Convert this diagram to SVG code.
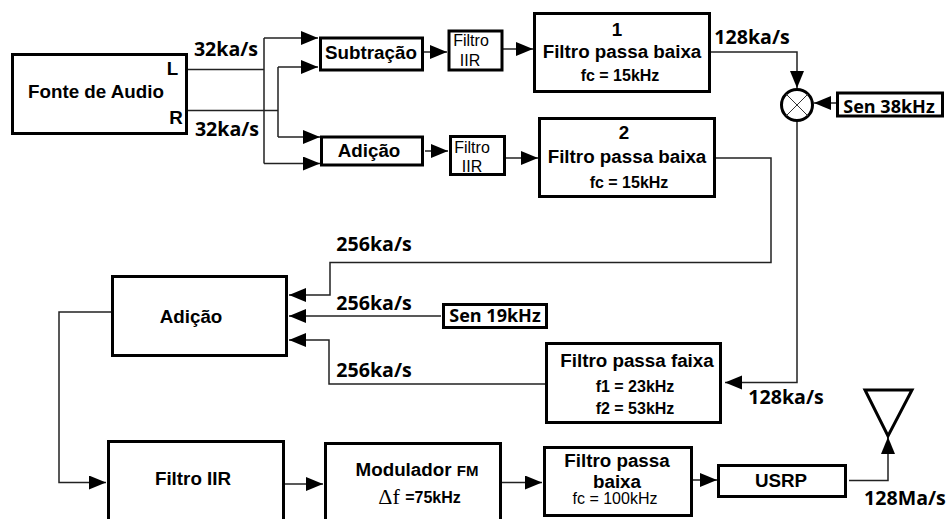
<svg xmlns="http://www.w3.org/2000/svg" width="947" height="519" viewBox="0 0 947 519">
<style>
.b{fill:#fff;stroke:#000;stroke-width:3}
.c{fill:none;stroke:#222;stroke-width:1.5}
text{font-family:"Liberation Sans",Arial,sans-serif;font-weight:bold;fill:#000;text-anchor:middle}
.r{font-family:"Open Sans",sans-serif;font-size:19.600px}
.m{font-size:18.800px}
.s{font-size:16px}
.t{font-size:16px;font-weight:normal}
</style>
<defs><marker id="a" markerUnits="userSpaceOnUse" markerWidth="18" markerHeight="16" refX="17" refY="7" orient="auto"><path d="M0 0L17 7L0 14Z" fill="#000"/></marker></defs>
<g id="connectors">
<path class="c" d="M188 69.500H264M264 38V163.500M188 110.500H278M278 67V137"/>
<path class="c" d="M264 38H318" marker-end="url(#a)"/>
<path class="c" d="M278 67H318" marker-end="url(#a)"/>
<path class="c" d="M278 137H320" marker-end="url(#a)"/>
<path class="c" d="M264 163.500H320" marker-end="url(#a)"/>
<path class="c" d="M423 52H447" marker-end="url(#a)"/>
<path class="c" d="M425 151H448" marker-end="url(#a)"/>
<path class="c" d="M503 49H533" marker-end="url(#a)"/>
<path class="c" d="M505 158H538" marker-end="url(#a)"/>
<path class="c" d="M710 52H797V88" marker-end="url(#a)"/>
<path class="c" d="M836 103H814" marker-end="url(#a)"/>
<path class="c" d="M797 121V382.500H725" marker-end="url(#a)"/>
<path class="c" d="M715 158H771V262.500H330V295H289" marker-end="url(#a)"/>
<path class="c" d="M441 316H289" marker-end="url(#a)"/>
<path class="c" d="M546 384H329V340H289" marker-end="url(#a)"/>
<path class="c" d="M111 312H59V482.500H106" marker-end="url(#a)"/>
<path class="c" d="M283 484H323" marker-end="url(#a)"/>
<path class="c" d="M501 482.500H542" marker-end="url(#a)"/>
<path class="c" d="M692 480H717" marker-end="url(#a)"/>
<path class="c" d="M849 480.500H888V437" marker-end="url(#a)"/>
</g>
<g id="fonte"><rect class="b" x="12.500" y="54.500" width="174" height="79"/><text class="m" x="96" y="98">Fonte de Audio</text><text class="m" x="172.500" y="75">L</text><text class="m" x="176" y="124">R</text></g>
<g id="subtracao"><rect class="b" x="320.500" y="38" width="102" height="32"/><text class="m" x="371" y="59">Subtração</text></g>
<g id="adicao1"><rect class="b" x="321.500" y="137" width="101" height="28"/><text class="m" x="369" y="157">Adição</text></g>
<g id="iir1"><rect class="b" x="449" y="31" width="53" height="39"/><text class="t" x="471" y="46">Filtro</text><text class="t" x="470" y="66">IIR</text></g>
<g id="iir2"><rect class="b" x="450.500" y="136.500" width="54" height="38"/><text class="t" x="472" y="153">Filtro</text><text class="t" x="472" y="172">IIR</text></g>
<g id="lp1"><rect class="b" x="534.500" y="13.500" width="175" height="78"/><text class="m" x="617" y="36">1</text><text class="m" x="622" y="58">Filtro passa baixa</text><text class="s" x="620" y="81">fc = 15kHz</text></g>
<g id="lp2"><rect class="b" x="539.500" y="118.500" width="175" height="78"/><text class="m" x="624" y="139">2</text><text class="m" x="627" y="163">Filtro passa baixa</text><text class="s" x="629" y="188">fc = 15kHz</text></g>
<g id="mixer"><circle cx="797" cy="105" r="15.500" fill="#fff" stroke="#000" stroke-width="3"/><path d="M786 94L808 116M808 94L786 116" stroke="#333" stroke-width="1"/></g>
<g id="sen38"><rect class="b" x="837.500" y="93" width="105" height="23"/><text x="889" y="113" style="font-family:'Open Sans',sans-serif;font-size:18px">Sen 38kHz</text></g>
<g id="adicao2"><rect class="b" x="112.500" y="276.500" width="174" height="79"/><text class="m" x="191" y="323">Adição</text></g>
<g id="sen19"><rect class="b" x="443.500" y="304.500" width="103" height="23"/><text x="495" y="322" style="font-family:'Open Sans',sans-serif;font-size:18px">Sen 19kHz</text></g>
<g id="bp"><rect class="b" x="546.500" y="343.500" width="174" height="79"/><text class="m" x="637" y="367">Filtro passa faixa</text><text class="s" x="635" y="392">f1 = 23kHz</text><text class="s" x="635" y="414">f2 = 53kHz</text></g>
<g id="iir3"><rect class="b" x="108.500" y="441.500" width="175" height="79"/><text class="m" x="193" y="485">Filtro IIR</text></g>
<g id="mod"><rect class="b" x="325.500" y="443.500" width="175" height="79"/><text class="m" x="417" y="476">Modulador <tspan style="font-size:15px">FM</tspan></text><text x="433" y="503" class="s">=75kHz</text><text x="389" y="504" style="font-family:'Liberation Serif',serif;font-size:22px;font-weight:normal">Δf</text></g>
<g id="lp3"><rect class="b" x="544.500" y="447.500" width="147" height="68"/><text class="m" x="617" y="467">Filtro passa</text><text class="m" x="617" y="488">baixa</text><text class="t" x="615" y="504">fc = 100kHz</text></g>
<g id="usrp"><rect class="b" x="718.500" y="465.500" width="127" height="31"/><text class="m" x="781" y="487">USRP</text></g>
<g id="antenna"><path d="M865 390H912L888 436Z" fill="#fff" stroke="#000" stroke-width="3"/></g>
<g id="labels">
<text class="r" x="226" y="56">32ka/s</text><text class="r" x="227" y="136">32ka/s</text>
<text class="r" x="374" y="251">256ka/s</text><text class="r" x="374" y="310">256ka/s</text><text class="r" x="374" y="377">256ka/s</text>
<text class="r" x="752" y="44">128ka/s</text><text class="r" x="786" y="404">128ka/s</text><text class="r" x="905" y="505">128Ma/s</text>
</g>
</svg>
